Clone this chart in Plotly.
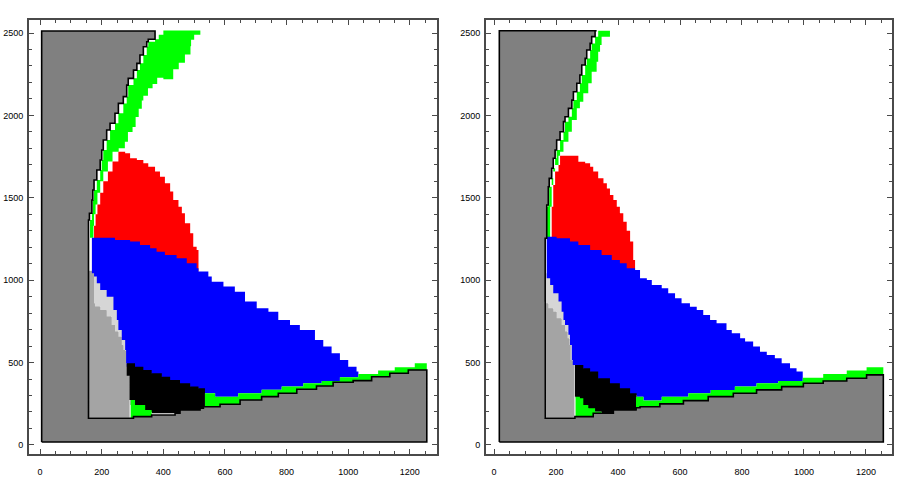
import plotly.graph_objects as go
from plotly.subplots import make_subplots

GRAY = "#808080"
LIGHT_GRAY = "#a4a4a4"
PALE_GRAY = "#d6d6d6"
GREEN = "#00ff00"
RED = "#ff0000"
BLUE = "#0000ff"
BLACK = "#000000"

# ---------- left panel regions (x, y) ----------
left_gray = [(5, 18), (5, 2512), (373, 2512), (373, 2462), (351, 2447), (346, 2417), (335, 2367),
             (324, 2316), (314, 2275), (303, 2225), (286, 2184), (281, 2114), (270, 2073), (254, 2013),
             (243, 1952), (227, 1911), (216, 1851), (205, 1790), (200, 1729), (195, 1669), (184, 1608),
             (175, 1547), (171, 1487), (168, 1406), (160, 1365), (157, 1284), (157, 162), (303, 162),
             (303, 172), (362, 172), (362, 182), (438, 182), (438, 192), (454, 192), (454, 212),
             (519, 212), (519, 223), (530, 223), (530, 232), (584, 232), (584, 247), (649, 247),
             (649, 273), (719, 273), (719, 293), (773, 293), (773, 314), (833, 314), (833, 338),
             (897, 338), (897, 358), (951, 358), (951, 380), (1016, 380), (1016, 390), (1076, 390),
             (1076, 414), (1135, 414), (1135, 435), (1195, 435), (1195, 455), (1255, 455), (1255, 18),
             (5, 18)]
left_light = [(157, 162), (157, 1060), (175, 1042), (178, 860), (195, 840), (216, 819), (232, 779),
              (243, 728), (254, 688), (265, 657), (270, 607), (276, 576), (281, 496), (290, 420),
              (292, 273), (292, 162), (157, 162)]
left_pale = [(175, 1042), (184, 1022), (195, 982), (216, 941), (238, 900), (249, 819), (254, 758),
             (265, 698), (276, 637), (279, 576), (276, 576), (270, 607), (265, 657), (254, 688),
             (243, 728), (232, 779), (216, 819), (195, 840), (178, 860), (175, 1042)]
left_green_top = [(400, 2515), (515, 2515), (520, 2490), (500, 2460), (490, 2420), (488, 2370),
                  (470, 2320), (450, 2280), (432, 2220), (400, 2228), (380, 2190), (365, 2165),
                  (350, 2120), (335, 2090), (330, 2040), (320, 1990), (310, 1930), (300, 1900),
                  (285, 1840), (275, 1800), (255, 1780), (235, 1720), (220, 1660), (205, 1600),
                  (195, 1530), (186, 1460), (180, 1400), (175, 1330), (173, 1258), (162, 1258),
                  (162, 1365), (168, 1406), (171, 1487), (175, 1547), (184, 1608), (195, 1669),
                  (200, 1729), (205, 1790), (216, 1851), (227, 1911), (243, 1952), (254, 2013),
                  (270, 2073), (281, 2114), (286, 2184), (303, 2225), (314, 2275), (324, 2316),
                  (335, 2367), (346, 2417), (351, 2447), (373, 2462), (385, 2490), (400, 2515)]
left_red = [(254, 1780), (276, 1770), (292, 1740), (314, 1729), (335, 1709), (351, 1689), (373, 1659),
            (389, 1628), (405, 1588), (422, 1538), (432, 1487), (449, 1446), (460, 1406), (470, 1345),
            (487, 1284), (497, 1203), (508, 1183), (514, 1123), (514, 1052), (173, 1240), (175, 1330),
            (180, 1400), (186, 1460), (195, 1530), (205, 1600), (220, 1660), (235, 1720), (254, 1780)]
left_blue = [(168, 1258), (243, 1258), (243, 1244), (292, 1234), (324, 1214), (357, 1194), (378, 1173),
             (405, 1153), (443, 1133), (476, 1103), (508, 1072), (514, 1052), (546, 1022), (557, 991),
             (595, 962), (632, 930), (665, 870), (703, 829), (741, 809), (773, 758), (811, 728),
             (843, 698), (892, 637), (919, 597), (946, 556), (973, 516), (1000, 475), (1027, 445),
             (1033, 431), (1033, 411), (973, 411), (973, 388), (914, 388), (914, 374), (854, 374),
             (854, 354), (784, 354), (784, 335), (719, 335), (719, 314), (643, 314), (643, 293),
             (568, 293), (568, 314), (535, 314), (514, 344), (487, 354), (454, 374), (422, 394),
             (395, 414), (362, 435), (335, 455), (308, 475), (281, 496), (279, 576), (276, 637),
             (265, 698), (254, 758), (249, 819), (238, 900), (216, 941), (195, 982), (184, 1022),
             (175, 1042), (168, 1163), (168, 1258)]
left_black = [(281, 496), (308, 475), (335, 455), (362, 435), (395, 414), (422, 394), (454, 374),
              (487, 354), (514, 344), (535, 314), (535, 232), (530, 232), (530, 223), (519, 223),
              (519, 212), (454, 212), (454, 192), (378, 192), (362, 202), (341, 212), (324, 243),
              (308, 243), (294, 273), (290, 420), (281, 496)]
left_green_low = [(294, 273), (308, 243), (324, 243), (341, 212), (362, 202), (362, 172), (303, 172),
                  (303, 162), (294, 162), (294, 273)]
left_green_band = [(535, 314), (568, 314), (568, 293), (643, 293), (643, 314), (719, 314), (719, 335),
                   (784, 335), (784, 354), (854, 354), (854, 374), (914, 374), (914, 388), (973, 388),
                   (973, 411), (1033, 411), (1033, 431), (1097, 431), (1097, 451), (1151, 451),
                   (1151, 471), (1216, 471), (1216, 496), (1255, 496), (1255, 455), (1195, 455),
                   (1195, 435), (1135, 435), (1135, 414), (1076, 414), (1076, 390), (1016, 390),
                   (1016, 380), (951, 380), (951, 358), (897, 358), (897, 338), (833, 338), (833, 314),
                   (773, 314), (773, 293), (719, 293), (719, 273), (649, 273), (649, 247), (584, 247),
                   (584, 232), (535, 232), (535, 314)]

# ---------- right panel regions (x, y) ----------
right_gray = [(17, 18), (17, 2514), (331, 2514), (326, 2478), (315, 2437), (310, 2397), (299, 2346),
              (294, 2306), (283, 2245), (277, 2195), (267, 2144), (256, 2093), (251, 2043), (240, 1992),
              (229, 1962), (224, 1901), (213, 1851), (202, 1790), (197, 1740), (191, 1679), (186, 1618),
              (178, 1567), (175, 1456), (170, 1446), (170, 1254), (165, 1254), (165, 162), (261, 162),
              (261, 172), (320, 172), (320, 192), (385, 192), (385, 212), (458, 212), (458, 226),
              (471, 226), (471, 232), (535, 232), (535, 249), (611, 249), (611, 269), (691, 269),
              (691, 293), (772, 293), (772, 314), (847, 314), (847, 334), (928, 334), (928, 354),
              (998, 354), (998, 374), (1062, 374), (1062, 388), (1138, 388), (1138, 405), (1202, 405),
              (1202, 425), (1256, 425), (1256, 18), (17, 18)]
right_light = [(165, 162), (165, 870), (175, 860), (191, 829), (202, 809), (218, 769), (229, 728),
               (237, 688), (243, 647), (247, 607), (251, 516), (256, 505), (261, 485), (261, 162),
               (165, 162)]
right_pale = [(166, 1042), (170, 1042), (181, 1011), (191, 971), (208, 920), (218, 870), (224, 809),
              (229, 758), (240, 728), (245, 668), (251, 607), (254, 516), (251, 516), (247, 607),
              (243, 647), (237, 688), (229, 728), (218, 769), (202, 809), (191, 829), (175, 860),
              (166, 870), (166, 1042)]
right_green_top = [(336, 2514), (374, 2514), (374, 2478), (347, 2427), (342, 2387), (336, 2326),
                   (331, 2265), (315, 2195), (304, 2134), (288, 2083), (277, 2043), (267, 1972),
                   (251, 1901), (240, 1840), (224, 1780), (213, 1755), (208, 1699), (197, 1659),
                   (191, 1578), (186, 1446), (181, 1300), (181, 1254), (170, 1254), (170, 1446),
                   (175, 1456), (178, 1567), (186, 1618), (191, 1679), (197, 1740), (202, 1790),
                   (213, 1851), (224, 1901), (229, 1962), (240, 1992), (251, 2043), (256, 2093),
                   (267, 2144), (277, 2195), (283, 2245), (294, 2306), (299, 2346), (310, 2397),
                   (315, 2437), (326, 2478), (336, 2514)]
right_red = [(213, 1755), (251, 1755), (272, 1719), (294, 1709), (310, 1689), (320, 1659), (336, 1618),
             (353, 1588), (364, 1557), (374, 1517), (385, 1487), (396, 1446), (406, 1406), (417, 1355),
             (428, 1300), (439, 1234), (449, 1123), (455, 1062), (181, 1250), (186, 1446), (191, 1578),
             (197, 1659), (208, 1699), (213, 1755)]
right_blue = [(170, 1264), (202, 1254), (245, 1234), (272, 1214), (310, 1183), (347, 1153), (380, 1123),
              (406, 1103), (428, 1072), (455, 1062), (471, 1011), (493, 1001), (509, 971), (541, 951),
              (562, 920), (584, 890), (605, 860), (632, 839), (654, 819), (675, 789), (697, 758),
              (718, 738), (750, 698), (767, 678), (794, 647), (810, 627), (836, 597), (858, 566),
              (880, 546), (906, 526), (928, 496), (955, 465), (976, 445), (996, 414), (996, 388),
              (917, 388), (917, 374), (847, 374), (847, 354), (777, 354), (777, 334), (699, 334),
              (699, 314), (627, 314), (627, 293), (541, 293), (541, 269), (482, 269), (482, 293),
              (460, 293), (460, 303), (439, 314), (406, 344), (374, 374), (336, 404), (310, 445),
              (288, 465), (261, 485), (254, 516), (251, 607), (245, 668), (240, 728), (229, 758),
              (224, 809), (218, 870), (208, 920), (191, 971), (181, 1011), (170, 1042), (170, 1264)]
right_black = [(261, 485), (288, 465), (310, 445), (336, 404), (374, 374), (406, 344), (439, 314),
               (460, 303), (460, 212), (385, 212), (385, 192), (347, 192), (347, 202), (326, 202),
               (304, 222), (288, 243), (277, 283), (264, 293), (261, 293), (261, 485)]
right_green_low = [(263, 293), (277, 283), (288, 243), (304, 222), (326, 202), (347, 202), (347, 192),
                   (320, 192), (320, 172), (263, 172), (263, 293)]
right_green_band = [(458, 293), (482, 293), (482, 269), (541, 269), (541, 293), (627, 293), (627, 314),
                    (699, 314), (699, 334), (777, 334), (777, 354), (847, 354), (847, 374), (917, 374),
                    (917, 388), (996, 388), (996, 408), (1062, 408), (1062, 431), (1138, 431),
                    (1138, 451), (1202, 451), (1202, 471), (1256, 471), (1256, 425), (1202, 425),
                    (1202, 405), (1138, 405), (1138, 388), (1062, 388), (1062, 374), (998, 374),
                    (998, 354), (928, 354), (928, 334), (847, 334), (847, 314), (772, 314), (772, 293),
                    (691, 293), (691, 269), (611, 269), (611, 249), (535, 249), (535, 232), (471, 232),
                    (471, 226), (458, 226), (458, 293)]

x_ticks = [0, 200, 400, 600, 800, 1000, 1200]
y_ticks = [0, 500, 1000, 1500, 2000, 2500]

panels = [
    [(left_gray, GRAY, None), (left_light, LIGHT_GRAY, "white"), (left_pale, PALE_GRAY, None),
     (left_green_top, GREEN, None), (left_red, RED, None), (left_blue, BLUE, None),
     (left_black, BLACK, None), (left_green_low, GREEN, None), (left_green_band, GREEN, None)],
    [(right_gray, GRAY, None), (right_light, LIGHT_GRAY, "white"), (right_pale, PALE_GRAY, None),
     (right_green_top, GREEN, None), (right_red, RED, None), (right_blue, BLUE, None),
     (right_black, BLACK, None), (right_green_low, GREEN, None), (right_green_band, GREEN, None)],
]
outlines = [left_gray, right_gray]


def poly(points, fill, line_color):
    xs = [p[0] for p in points]
    ys = [p[1] for p in points]
    return go.Scatter(x=xs, y=ys, mode="lines", fill="toself", fillcolor=fill,
                      line=dict(color=line_color or fill, width=1 if line_color else 0, shape="hv"),
                      hoverinfo="skip", showlegend=False)


fig = make_subplots(rows=1, cols=2)
for c, layers in enumerate(panels):
    for pts, fill, lc in layers:
        fig.add_trace(poly(pts, fill, lc), row=1, col=c + 1)
    # black boundary of the gray region drawn on top
    fig.add_trace(go.Scatter(x=[p[0] for p in outlines[c]], y=[p[1] for p in outlines[c]], mode="lines",
                             line=dict(color="black", width=1.6, shape="hv"),
                             hoverinfo="skip", showlegend=False), row=1, col=c + 1)

axis_common = dict(showline=True, linecolor="#4a4a4a", linewidth=2, mirror="allticks",
                   ticks="inside", tickcolor="#4a4a4a", tickwidth=1, showgrid=False, zeroline=False,
                   automargin=False,
                   tickfont=dict(family="Liberation Sans", size=9, color="black"))

fig.update_xaxes(**axis_common, tickvals=x_ticks, ticklen=5, ticklabelstandoff=8,
                 minor=dict(ticks="inside", dtick=50, tick0=0, ticklen=3, tickcolor="#4a4a4a"))
fig.update_yaxes(**axis_common, tickvals=y_ticks, ticklen=5, ticklabelstandoff=2,
                 minor=dict(ticks="inside", dtick=100, tick0=0, ticklen=3, tickcolor="#4a4a4a"))

fig.update_layout(
    width=913, height=498,
    margin=dict(l=0, r=0, t=0, b=0),
    paper_bgcolor="white", plot_bgcolor="white",
    xaxis=dict(domain=[0.0318, 0.4786], range=[-36, 1288]),
    xaxis2=dict(domain=[0.5323, 0.9770], range=[-26, 1284]),
    yaxis=dict(domain=[0.0884, 0.9598], range=[-55, 2579]),
    yaxis2=dict(domain=[0.0884, 0.9598], range=[-55, 2579]),
)

# page body margin removed so the figure sits at the window origin
fig.write_html("out.html", config={"displayModeBar": False},
               post_script="document.body.style.margin='0';")
